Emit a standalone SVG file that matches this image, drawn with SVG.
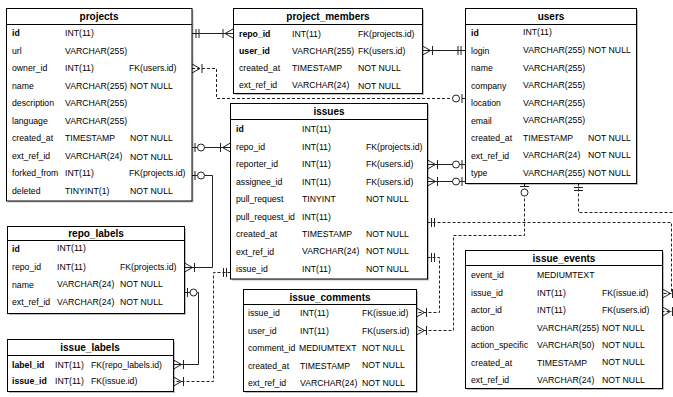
<svg xmlns="http://www.w3.org/2000/svg" width="673" height="397" viewBox="0 0 673 397">
<style>
.bg{fill:#fff}
.sh{fill:#000;opacity:.25}
.box{fill:#fff;stroke:#000;stroke-width:1}
.hl{stroke:#000;stroke-width:1}
.hd{font-family:"Liberation Sans",Arial,sans-serif;font-size:10px;font-weight:bold;text-anchor:middle;fill:#000}
.t{font-family:"Liberation Sans",Arial,sans-serif;font-size:8.7px;fill:#000}
.b{font-weight:bold}
.c{fill:none;stroke:#222;stroke-width:1}
.d{stroke-dasharray:3 2}
.mk{fill:none;stroke:#222;stroke-width:1}
.mkc{fill:#fff;stroke:#222;stroke-width:1}
</style>
<defs>
<marker id="many" markerUnits="userSpaceOnUse" orient="auto-start-reverse" markerWidth="30" markerHeight="30" refX="0" refY="0" overflow="visible">
<path class="mk" d="M-8,0 L0,-4.5 M-8,0 L0,4.5 M-10,-4.5 V4.5"/>
</marker>
<marker id="one" markerUnits="userSpaceOnUse" orient="auto-start-reverse" markerWidth="30" markerHeight="30" refX="0" refY="0" overflow="visible">
<path class="mk" d="M-4,-4.5 V4.5 M-7,-4.5 V4.5"/>
</marker>
<marker id="zo" markerUnits="userSpaceOnUse" orient="auto-start-reverse" markerWidth="30" markerHeight="30" refX="0" refY="0" overflow="visible">
<path class="mk" d="M-3,-4.5 V4.5"/>
<circle class="mkc" cx="-9" cy="0" r="3.5"/>
</marker>
</defs>
<rect class="bg" x="0" y="0" width="673" height="397"/>

<g id="connectors">
<path class="c" d="M192 33.5 H233" marker-start="url(#one)" marker-end="url(#many)"/>
<path class="c d" d="M465 98.5 H216.5 V68.5 H192" marker-start="url(#zo)" marker-end="url(#many)"/>
<path class="c" d="M465 50.5 H422.5" marker-start="url(#one)" marker-end="url(#many)"/>
<path class="c" d="M192 147.5 H230.5" marker-start="url(#zo)" marker-end="url(#many)"/>
<path class="c" d="M192 175.5 H212.5 V267.5 H184.5" marker-start="url(#zo)" marker-end="url(#many)"/>
<path class="c" d="M465 164.5 H427.5" marker-start="url(#zo)" marker-end="url(#many)"/>
<path class="c" d="M465 181.5 H427.5" marker-start="url(#zo)" marker-end="url(#many)"/>
<path class="c d" d="M524.5 183.5 V235.5 H453.5 V330.5 H416.5" marker-start="url(#zo)" marker-end="url(#many)"/>
<path class="c d" d="M578.5 183.5 V212.5 H690 V311.5 H662.5" marker-start="url(#one)" marker-end="url(#many)"/>
<path class="c d" d="M427.5 222.5 H671.5 V293.5 H662.5" marker-start="url(#one)" marker-end="url(#many)"/>
<path class="c d" d="M427.5 257.5 H439.5 V312.5 H416.5" marker-start="url(#one)" marker-end="url(#many)"/>
<path class="c" d="M184.5 292.5 H198.5 V364.5 H173.5" marker-start="url(#zo)" marker-end="url(#many)"/>
<path class="c d" d="M230.5 272.5 H213.5 V381.5 H173.5" marker-start="url(#one)" marker-end="url(#many)"/>
</g>

<g id="projects">
<rect class="sh" x="8" y="10" width="185.5" height="192.5"/>
<rect class="box" x="6.5" y="8.5" width="185.5" height="192.5"/>
<line class="hl" x1="6.5" y1="24.5" x2="192" y2="24.5"/>
<text class="hd" x="99" y="20">projects</text>
<text class="t b" x="12" y="36">id</text><text class="t" x="65" y="36">INT(11)</text>
<text class="t" x="12" y="53.5">url</text><text class="t" x="65" y="53.5">VARCHAR(255)</text>
<text class="t" x="12" y="71">owner_id</text><text class="t" x="65" y="71">INT(11)</text><text class="t" x="129" y="71">FK(users.id)</text>
<text class="t" x="12" y="88.5">name</text><text class="t" x="65" y="88.5">VARCHAR(255)</text><text class="t" x="130" y="88.5">NOT NULL</text>
<text class="t" x="12" y="106">description</text><text class="t" x="65" y="106">VARCHAR(255)</text>
<text class="t" x="12" y="123.5">language</text><text class="t" x="65" y="123.5">VARCHAR(255)</text>
<text class="t" x="12" y="141">created_at</text><text class="t" x="65" y="141">TIMESTAMP</text><text class="t" x="130" y="141">NOT NULL</text>
<text class="t" x="12" y="158.5">ext_ref_id</text><text class="t" x="65" y="158.5">VARCHAR(24)</text><text class="t" x="130" y="159.5">NOT NULL</text>
<text class="t" x="12" y="176">forked_from</text><text class="t" x="65" y="176">INT(11)</text><text class="t" x="129" y="176">FK(projects.id)</text>
<text class="t" x="12" y="193.5">deleted</text><text class="t" x="65" y="193.5">TINYINT(1)</text><text class="t" x="130" y="193.5">NOT NULL</text>
</g>

<g id="project_members">
<rect class="sh" x="235" y="10" width="189" height="85"/>
<rect class="box" x="233.5" y="8.5" width="189" height="85"/>
<line class="hl" x1="233.5" y1="24.5" x2="422.5" y2="24.5"/>
<text class="hd" x="328" y="20">project_members</text>
<text class="t b" x="239" y="36.5">repo_id</text><text class="t" x="292" y="36.5">INT(11)</text><text class="t" x="358" y="36.5">FK(projects.id)</text>
<text class="t b" x="239" y="54">user_id</text><text class="t" x="292" y="54">VARCHAR(255)</text><text class="t" x="358" y="54">FK(users.id)</text>
<text class="t" x="239" y="71">created_at</text><text class="t" x="292" y="71">TIMESTAMP</text><text class="t" x="358" y="71">NOT NULL</text>
<text class="t" x="239" y="87.5">ext_ref_id</text><text class="t" x="292" y="87.5">VARCHAR(24)</text><text class="t" x="358" y="88.5">NOT NULL</text>
</g>

<g id="users">
<rect class="sh" x="467" y="10" width="171" height="175"/>
<rect class="box" x="465.5" y="8.5" width="171" height="175"/>
<line class="hl" x1="465.5" y1="24.5" x2="636.5" y2="24.5"/>
<text class="hd" x="551" y="20">users</text>
<text class="t b" x="471" y="36">id</text><text class="t" x="523" y="35">INT(11)</text>
<text class="t" x="471" y="53.5">login</text><text class="t" x="523" y="53">VARCHAR(255)</text><text class="t" x="588" y="53">NOT NULL</text>
<text class="t" x="471" y="71">name</text><text class="t" x="523" y="70.5">VARCHAR(255)</text>
<text class="t" x="471" y="88.5">company</text><text class="t" x="523" y="88">VARCHAR(255)</text>
<text class="t" x="471" y="106">location</text><text class="t" x="523" y="105.5">VARCHAR(255)</text>
<text class="t" x="471" y="123.5">email</text><text class="t" x="523" y="123">VARCHAR(255)</text>
<text class="t" x="471" y="141">created_at</text><text class="t" x="523" y="140.5">TIMESTAMP</text><text class="t" x="588" y="141">NOT NULL</text>
<text class="t" x="471" y="158.5">ext_ref_id</text><text class="t" x="523" y="158">VARCHAR(24)</text><text class="t" x="588" y="158">NOT NULL</text>
<text class="t" x="471" y="176">type</text><text class="t" x="523" y="175.5">VARCHAR(255)</text><text class="t" x="588" y="175.5">NOT NULL</text>
</g>

<g id="issues">
<rect class="sh" x="232" y="105" width="197" height="175.5"/>
<rect class="box" x="230.5" y="103.5" width="197" height="175.5"/>
<line class="hl" x1="230.5" y1="119.5" x2="427.5" y2="119.5"/>
<text class="hd" x="329" y="115">issues</text>
<text class="t b" x="236" y="132">id</text><text class="t" x="302" y="131.5">INT(11)</text>
<text class="t" x="236" y="149.5">repo_id</text><text class="t" x="302" y="149.5">INT(11)</text><text class="t" x="366" y="149.5">FK(projects.id)</text>
<text class="t" x="236" y="167">reporter_id</text><text class="t" x="302" y="167">INT(11)</text><text class="t" x="366" y="167">FK(users.id)</text>
<text class="t" x="236" y="184.5">assignee_id</text><text class="t" x="302" y="184.5">INT(11)</text><text class="t" x="366" y="184.5">FK(users.id)</text>
<text class="t" x="236" y="202">pull_request</text><text class="t" x="302" y="202">TINYINT</text><text class="t" x="366" y="201.5">NOT NULL</text>
<text class="t" x="236" y="219.5">pull_request_id</text><text class="t" x="302" y="219.5">INT(11)</text>
<text class="t" x="236" y="237">created_at</text><text class="t" x="302" y="236.5">TIMESTAMP</text><text class="t" x="366" y="236.5">NOT NULL</text>
<text class="t" x="236" y="254.5">ext_ref_id</text><text class="t" x="302" y="254">VARCHAR(24)</text><text class="t" x="366" y="254">NOT NULL</text>
<text class="t" x="236" y="272">issue_id</text><text class="t" x="302" y="272">INT(11)</text><text class="t" x="366" y="272">NOT NULL</text>
</g>

<g id="repo_labels">
<rect class="sh" x="9" y="228" width="177" height="87"/>
<rect class="box" x="7.5" y="226.5" width="177" height="87"/>
<line class="hl" x1="7.5" y1="240.5" x2="184.5" y2="240.5"/>
<text class="hd" x="96" y="237">repo_labels</text>
<text class="t b" x="12" y="252">id</text><text class="t" x="57" y="251">INT(11)</text>
<text class="t" x="12" y="270">repo_id</text><text class="t" x="57" y="269.5">INT(11)</text><text class="t" x="120" y="269.5">FK(projects.id)</text>
<text class="t" x="12" y="287.5">name</text><text class="t" x="57" y="287">VARCHAR(24)</text><text class="t" x="120" y="287">NOT NULL</text>
<text class="t" x="12" y="305">ext_ref_id</text><text class="t" x="57" y="304.5">VARCHAR(24)</text><text class="t" x="120" y="304.5">NOT NULL</text>
</g>

<g id="issue_labels">
<rect class="sh" x="9" y="341" width="166" height="52"/>
<rect class="box" x="7.5" y="339.5" width="166" height="52"/>
<line class="hl" x1="7.5" y1="355.5" x2="173.5" y2="355.5"/>
<text class="hd" x="90" y="351">issue_labels</text>
<text class="t b" x="12" y="367.5">label_id</text><text class="t" x="55" y="367.5">INT(11)</text><text class="t" x="91" y="367.5">FK(repo_labels.id)</text>
<text class="t b" x="12" y="384">issue_id</text><text class="t" x="55" y="384">INT(11)</text><text class="t" x="91" y="384">FK(issue.id)</text>
</g>

<g id="issue_comments">
<rect class="sh" x="245" y="291" width="173" height="102"/>
<rect class="box" x="243.5" y="289.5" width="173" height="102"/>
<line class="hl" x1="243.5" y1="304.5" x2="416.5" y2="304.5"/>
<text class="hd" x="330" y="300.5">issue_comments</text>
<text class="t" x="248" y="316">issue_id</text><text class="t" x="300" y="316">INT(11)</text><text class="t" x="362" y="316">FK(issue.id)</text>
<text class="t" x="248" y="333.5">user_id</text><text class="t" x="300" y="333.5">INT(11)</text><text class="t" x="362" y="333.5">FK(users.id)</text>
<text class="t" x="248" y="351">comment_id</text><text class="t" x="299" y="351">MEDIUMTEXT</text><text class="t" x="362" y="351">NOT NULL</text>
<text class="t" x="248" y="368.5">created_at</text><text class="t" x="300" y="368.5">TIMESTAMP</text><text class="t" x="362" y="368">NOT NULL</text>
<text class="t" x="248" y="386">ext_ref_id</text><text class="t" x="300" y="386">VARCHAR(24)</text><text class="t" x="362" y="386">NOT NULL</text>
</g>

<g id="issue_events">
<rect class="sh" x="467" y="252" width="197" height="138"/>
<rect class="box" x="465.5" y="250.5" width="197" height="138"/>
<line class="hl" x1="465.5" y1="265.5" x2="662.5" y2="265.5"/>
<text class="hd" x="564" y="261.5">issue_events</text>
<text class="t" x="471" y="278">event_id</text><text class="t" x="537" y="278">MEDIUMTEXT</text>
<text class="t" x="471" y="295.5">issue_id</text><text class="t" x="537" y="295.5">INT(11)</text><text class="t" x="602" y="295.5">FK(issue.id)</text>
<text class="t" x="471" y="313">actor_id</text><text class="t" x="537" y="313">INT(11)</text><text class="t" x="602" y="313">FK(users.id)</text>
<text class="t" x="471" y="330.5">action</text><text class="t" x="537" y="330.5">VARCHAR(255)</text><text class="t" x="602" y="330.5">NOT NULL</text>
<text class="t" x="471" y="348">action_specific</text><text class="t" x="537" y="348">VARCHAR(50)</text><text class="t" x="602" y="348">NOT NULL</text>
<text class="t" x="471" y="365.5">created_at</text><text class="t" x="537" y="365.5">TIMESTAMP</text><text class="t" x="602" y="365">NOT NULL</text>
<text class="t" x="471" y="383">ext_ref_id</text><text class="t" x="537" y="383">VARCHAR(24)</text><text class="t" x="602" y="383">NOT NULL</text>
</g>
</svg>
